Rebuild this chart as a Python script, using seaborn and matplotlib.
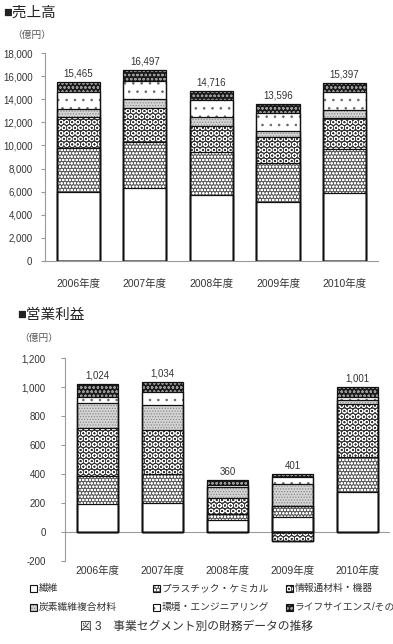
import numpy as np
import matplotlib
matplotlib.use("Agg")
import matplotlib.pyplot as plt
from matplotlib.patches import Rectangle
from matplotlib.ticker import FuncFormatter, MultipleLocator
import seaborn as sns

# ---------------- data ----------------
years = ["2006年度", "2007年度", "2008年度", "2009年度", "2010年度"]
segments = ["繊維", "プラスチック・ケミカル", "情報通材料・機器",
            "炭素繊維複合材料", "環境・エンジニアリング", "ライフサイエンス/その他"]

# 売上高 (億円)
sales_fiber = [6000, 6300, 5700, 5140, 5920]
sales_plastics = [3760, 3980, 3740, 3320, 3750]
sales_info = [2740, 2940, 2280, 2310, 2740]
sales_carbon = [660, 780, 780, 520, 670]
sales_env = [1500, 1610, 1440, 1560, 1530]
sales_life = [805, 887, 776, 746, 787]
sales_totals = [15465, 16497, 14716, 13596, 15397]

# 営業利益 (億円)
op_fiber = [193, 204, 85, 107, 280]
op_plastics = [195, 198, 41, 74, 241]
op_info = [329, 304, 108, -57, 364]
op_carbon = [173, 172, 76, 153, 27]
op_env = [45, 92, 15, 46, 19]
op_life = [89, 64, 35, 21, 70]
op_totals = [1024, 1034, 360, 401, 1001]

# ---------------- style ----------------
sns.set_theme(style="white")
plt.rcParams["font.family"] = ["Liberation Sans", "Noto Sans CJK JP", "DejaVu Sans"]
plt.rcParams["hatch.linewidth"] = 0.6

TXT = "#333333"
AX = "#9a9a9a"

# facecolor, hatch, hatch colour
styles = [
    ("white", "", "white"),
    ("#5e5e5e", "ooooo", "white"),
    ("#333333", "OOO", "white"),
    ("#d4d4d4", "......", "#8a8a8a"),
    ("white", "..", "#666666"),
    ("#1a1a1a", "oooo", "#9a9a9a"),
]

fig = plt.figure(figsize=(3.93, 6.44), dpi=100)


def style_new(ax, n0, fc, hatch, hc, lw=0):
    for p in ax.patches[n0:]:
        p.set_facecolor(fc)
        p.set_hatch(hatch)
        p.set_edgecolor(hc)
        p.set_linewidth(lw)


def draw_stack(ax, series, totals, width):
    vals = np.array(series, dtype=float)
    pos = np.clip(vals, 0, None)
    neg = np.clip(vals, None, 0)
    cum = pos.cumsum(axis=0)
    ncum = neg.cumsum(axis=0)
    # filled layers (top-most first, lower layers drawn over)
    for k in reversed(range(len(series))):
        fc, h, hc = styles[k]
        n0 = len(ax.patches)
        sns.barplot(x=years, y=cum[k], ax=ax, width=width, errorbar=None,
                    saturation=1, color="white")
        style_new(ax, n0, fc, h, hc)
    for k in reversed(range(len(series))):
        if (neg[k] < 0).any():
            fc, h, hc = styles[k]
            n0 = len(ax.patches)
            sns.barplot(x=years, y=ncum[k], ax=ax, width=width, errorbar=None,
                        saturation=1, color="white")
            style_new(ax, n0, fc, h, hc)
            for p in ax.patches[n0:]:
                if p.get_height() == 0:
                    p.set_visible(False)
    # outlines
    for k in range(len(series)):
        for arr in (cum[k], ncum[k]):
            if not np.any(arr):
                continue
            n0 = len(ax.patches)
            sns.barplot(x=years, y=arr, ax=ax, width=width, errorbar=None,
                        saturation=1, color="black", fill=False)
            for p in ax.patches[n0:]:
                p.set_facecolor("none")
                p.set_edgecolor("#111111")
                p.set_linewidth(0.9)
                p.set_hatch("")
                if p.get_height() == 0:
                    p.set_visible(False)
    for i, t in enumerate(totals):
        ax.annotate(f"{t:,}", (i, cum[-1][i]), xytext=(0, 2.5),
                    textcoords="offset points", ha="center", va="bottom",
                    fontsize=7, color=TXT)
    ax.set_xlim(-0.5, len(years) - 0.5)
    ax.set_xlabel("")
    ax.set_ylabel("")


fmt = FuncFormatter(lambda v, p: f"{v:,.0f}")

# ---------------- 売上高 ----------------
ax1 = fig.add_axes([0.1145, 0.5947, 0.847, 0.323])
draw_stack(ax1, [sales_fiber, sales_plastics, sales_info, sales_carbon,
                 sales_env, sales_life], sales_totals, 0.65)
ax1.set_ylim(0, 18000)
ax1.yaxis.set_major_locator(MultipleLocator(2000))
ax1.yaxis.set_major_formatter(fmt)
for s in ["top", "right"]:
    ax1.spines[s].set_visible(False)
for s in ["left", "bottom"]:
    ax1.spines[s].set_color(AX)
    ax1.spines[s].set_linewidth(0.8)
ax1.tick_params(axis="y", left=True, length=3, width=0.8, color=AX, pad=6,
                labelsize=7, labelcolor=TXT)
ax1.tick_params(axis="x", bottom=False, length=0, pad=13, labelsize=7.5,
                labelcolor=TXT)

# ---------------- 営業利益 ----------------
ax2 = fig.add_axes([0.1654, 0.1284, 0.827, 0.3152])
draw_stack(ax2, [op_fiber, op_plastics, op_info, op_carbon,
                 op_env, op_life], op_totals, 0.64)
ax2.set_ylim(-200, 1200)
ax2.yaxis.set_major_locator(MultipleLocator(200))
ax2.yaxis.set_major_formatter(fmt)
for s in ["top", "right", "bottom"]:
    ax2.spines[s].set_visible(False)
ax2.spines["left"].set_color(AX)
ax2.spines["left"].set_linewidth(0.8)
ax2.axhline(0, color=AX, lw=0.8, zorder=0.5)
ax2.tick_params(axis="y", left=True, length=3, width=0.8, color=AX, pad=11,
                labelsize=7, labelcolor=TXT)
ax2.tick_params(axis="x", bottom=False, length=0, pad=3, labelsize=7.5,
                labelcolor=TXT)


# ---------------- titles ----------------
def ftext(x, y, s, **kw):
    fig.text(x / 393, 1 - y / 644, s, va="center", **kw)


ftext(3, 13, "■売上高", fontsize=10.5, color="#222222")
ftext(12, 35, "（億円）", fontsize=7, color="#555555")
ftext(17, 315, "■営業利益", fontsize=10.5, color="#222222")
ftext(19, 338, "（億円）", fontsize=7, color="#555555")

# ---------------- legend ----------------
leg_pos = [(30, 588), (153, 588), (286, 588), (30, 607), (153, 607), (286, 607)]
for (x, y), name, (fc, h, hc) in zip(leg_pos, segments, styles):
    r = Rectangle((x / 393, 1 - (y + 3.5) / 644), 7 / 393, 7 / 644,
                  transform=fig.transFigure, facecolor=fc, hatch=h,
                  edgecolor=hc, linewidth=0)
    fig.add_artist(r)
    r2 = Rectangle((x / 393, 1 - (y + 3.5) / 644), 7 / 393, 7 / 644,
                   transform=fig.transFigure, facecolor="none",
                   edgecolor="#111111", linewidth=0.8)
    fig.add_artist(r2)
    ftext(x + 9, y, name, fontsize=7, color=TXT)

fig.text(0.5, 1 - 627 / 644, "図 3　事業セグメント別の財務データの推移",
         ha="center", va="center", fontsize=8.5, color=TXT)

fig.savefig("out.png", dpi=100)
